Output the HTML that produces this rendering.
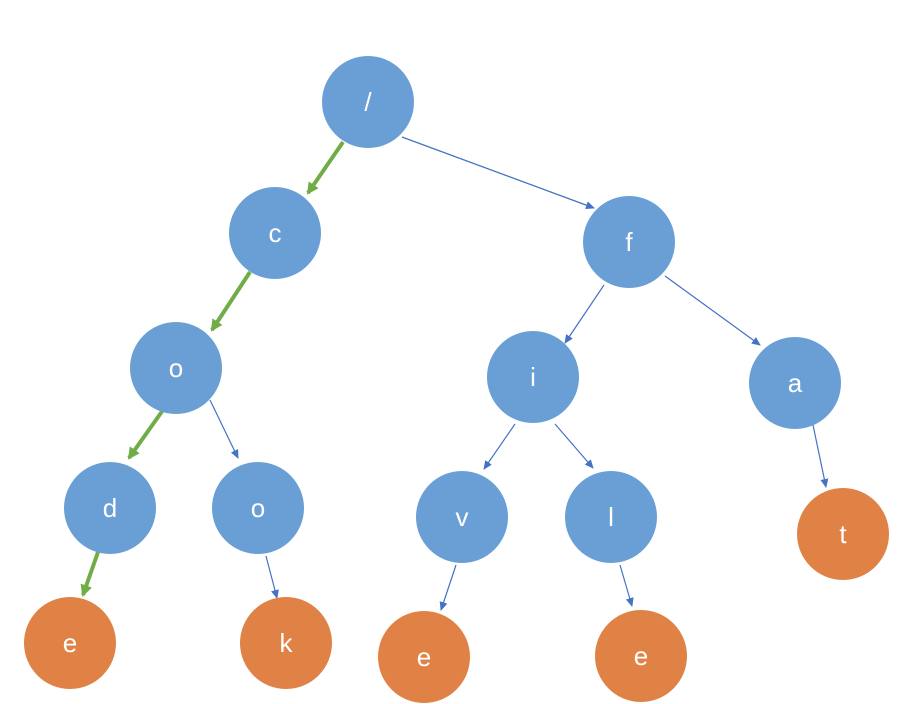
<!DOCTYPE html>
<html><head><meta charset="utf-8"><style>
html,body{margin:0;padding:0;background:#fff;}
svg{display:block;}
text{font-family:"Liberation Sans",sans-serif;font-size:26px;fill:#fff;text-anchor:middle;dominant-baseline:central;}
</style></head><body>
<svg width="910" height="704" viewBox="0 0 910 704">
<defs>
<marker id="b" markerWidth="10" markerHeight="10" refX="8" refY="4" orient="auto" markerUnits="userSpaceOnUse"><path d="M0,0 L9,4 L0,8 Z" fill="#4472c4"/></marker>
<marker id="g" markerWidth="14" markerHeight="14" refX="10" refY="6" orient="auto" markerUnits="userSpaceOnUse"><path d="M0,0 L12,6 L0,12 Z" fill="#70ad47"/></marker>
</defs>
<g stroke="#70ad47" stroke-width="4" marker-end="url(#g)">
<line x1="343" y1="142" x2="308" y2="193"/>
<line x1="250" y1="272" x2="212" y2="330"/>
<line x1="163" y1="410" x2="129" y2="458"/>
<line x1="98" y1="552" x2="83" y2="595"/>
</g>
<g stroke="#4472c4" stroke-width="1.2" marker-end="url(#b)">
<line x1="402" y1="137" x2="594" y2="208"/>
<line x1="210" y1="400" x2="238" y2="458"/>
<line x1="266" y1="556" x2="277" y2="598"/>
<line x1="604" y1="285" x2="565" y2="343"/>
<line x1="665" y1="276" x2="760" y2="345"/>
<line x1="515" y1="424" x2="484" y2="469"/>
<line x1="555" y1="424" x2="593" y2="468"/>
<line x1="456" y1="565" x2="441" y2="610"/>
<line x1="620" y1="565" x2="632" y2="606"/>
<line x1="813" y1="425" x2="826" y2="487"/>
</g>
<g fill="#6a9fd5">
<circle cx="368" cy="102" r="46"/><circle cx="275" cy="233" r="46"/><circle cx="629" cy="242" r="46"/>
<circle cx="176" cy="368" r="46"/><circle cx="533" cy="377" r="46"/><circle cx="795" cy="383" r="46"/>
<circle cx="110" cy="508" r="46"/><circle cx="258" cy="508" r="46"/><circle cx="462" cy="517" r="46"/><circle cx="611" cy="517" r="46"/>
</g>
<g fill="#e08246">
<circle cx="843" cy="534" r="46"/><circle cx="70" cy="643" r="46"/><circle cx="286" cy="643" r="46"/><circle cx="424" cy="657" r="46"/><circle cx="641" cy="656" r="46"/>
</g>
<text x="368" y="102">/</text><text x="275" y="233">c</text><text x="629" y="242">f</text>
<text x="176" y="368">o</text><text x="533" y="377">i</text><text x="795" y="383">a</text>
<text x="110" y="508">d</text><text x="258" y="508">o</text><text x="462" y="517">v</text><text x="611" y="517">l</text>
<text x="843" y="534">t</text><text x="70" y="643">e</text><text x="286" y="643">k</text><text x="424" y="657">e</text><text x="641" y="656">e</text>
</svg>
</body></html>
